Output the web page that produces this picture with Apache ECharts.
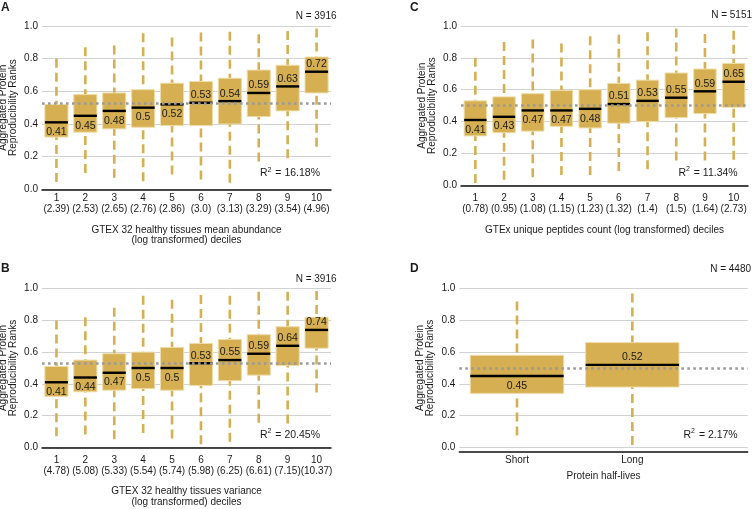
<!DOCTYPE html>
<html><head><meta charset="utf-8">
<script src="https://cdn.jsdelivr.net/npm/echarts@6/dist/echarts.min.js"></script>
<style>html,body{margin:0;padding:0;background:#fff}#c{width:753px;height:509px}</style>
</head><body><div id="c"></div>
<script>
// ---------- data ----------
const decileCats = ['1','2','3','4','5','6','7','8','9','10'];
const abundanceTicks = ['2.39','2.53','2.65','2.76','2.86','3.0','3.13','3.29','3.54','4.96'];
const varianceTicks = ['4.78','5.08','5.33','5.54','5.74','5.98','6.25','6.61','7.15','10.37'];
const peptideTicks = ['0.78','0.95','1.08','1.15','1.23','1.32','1.4','1.5','1.64','2.73'];
const halfLifeCats = ['Short','Long'];
const yTicks = [0, 0.2, 0.4, 0.6, 0.8, 1.0];

// Panel A: mean abundance deciles
const aLow  = [0.045,0.10,0.07,0.05,0.09,0.06,0.04,0.17,0.19,0.26];
const aQ1   = [0.32,0.35,0.37,0.38,0.39,0.39,0.40,0.445,0.48,0.59];
const aMed  = [0.41,0.45,0.48,0.5,0.52,0.53,0.54,0.59,0.63,0.72];
const aQ3   = [0.52,0.58,0.59,0.61,0.65,0.66,0.68,0.73,0.76,0.81];
const aHigh = [0.80,0.87,0.88,0.955,0.93,0.96,0.965,0.95,0.97,0.985];
const aRef = 0.53, aN = 'N = 3916', aR2 = '16.18%';

// Panel B: variance deciles
const bLow  = [0.07,0.08,0.05,0.09,0.055,0.02,0.035,0.155,0.15,0.345];
const bQ1   = [0.32,0.35,0.36,0.37,0.36,0.39,0.42,0.455,0.515,0.625];
const bMed  = [0.41,0.44,0.47,0.5,0.5,0.53,0.55,0.59,0.64,0.74];
const bQ3   = [0.51,0.55,0.59,0.60,0.63,0.655,0.68,0.71,0.76,0.82];
const bHigh = [0.80,0.82,0.88,0.955,0.93,0.96,0.955,0.98,0.98,0.985];
const bRef = 0.53, bN = 'N = 3916', bR2 = '20.45%';

// Panel C: unique peptides count deciles
const cLow  = [0.015,0.035,0.05,0.065,0.065,0.09,0.10,0.155,0.155,0.16];
const cQ1   = [0.31,0.33,0.34,0.37,0.36,0.39,0.40,0.425,0.45,0.49];
const cMed  = [0.41,0.43,0.47,0.47,0.48,0.51,0.53,0.55,0.59,0.65];
const cQ3   = [0.53,0.555,0.575,0.595,0.60,0.64,0.66,0.705,0.73,0.765];
const cHigh = [0.80,0.90,0.915,0.89,0.935,0.945,0.96,0.985,0.95,0.97];
const cRef = 0.50, cN = 'N = 5151', cR2 = '11.34%';

// Panel D: protein half-lives
const dLow  = [0.075,0.015];
const dQ1   = [0.34,0.38];
const dMed  = [0.45,0.52];
const dQ3   = [0.58,0.66];
const dHigh = [0.92,0.97];
const dRef = 0.50, dN = 'N = 4480', dR2 = '2.17%';

// ---------- styling ----------
const FONT = "'Liberation Sans', Arial, Helvetica, sans-serif";
const GOLD = '#D5AF52';
const GOLD_EDGE = '#EEDDA8';
const TXT = '#1a1a1a';

function rows(lo, q1, med, q3, hi, xs) {
  return med.map((m, i) => [xs ? xs[i] : i, lo[i], q1[i], m, q3[i], hi[i]]);
}

function makeRender(frac, ref) {
  return function (params, api) {
    const x = api.value(0);
    const lo = api.value(1), q1 = api.value(2), med = api.value(3), q3 = api.value(4), hi = api.value(5);
    const band = api.size([1, 0])[0];
    const w = band * frac;
    const pLo = api.coord([x, lo]), pQ1 = api.coord([x, q1]), pMed = api.coord([x, med]);
    const pQ3 = api.coord([x, q3]), pHi = api.coord([x, hi]);
    const cx = pMed[0];
    const above = med >= ref;
    const wStyle = { stroke: GOLD, lineWidth: 2.6, lineDash: [9, 5], fill: null };
    return {
      type: 'group',
      children: [
        { type: 'line', shape: { x1: cx, y1: pHi[1], x2: cx, y2: pQ3[1] }, style: wStyle },
        { type: 'line', shape: { x1: cx, y1: pLo[1], x2: cx, y2: pQ1[1] }, style: wStyle },
        { type: 'rect', shape: { x: cx - w / 2, y: pQ3[1], width: w, height: pQ1[1] - pQ3[1] },
          style: { fill: GOLD, stroke: GOLD_EDGE, lineWidth: 1 } },
        { type: 'line', shape: { x1: cx - w / 2, y1: pMed[1], x2: cx + w / 2, y2: pMed[1] },
          style: { stroke: '#000', lineWidth: 2.4 }, z2: 10 },
        { type: 'text', z2: 11, style: { text: String(med), x: cx, y: above ? pMed[1] - 7.5 : pMed[1] + 9.8,
          align: 'center', verticalAlign: 'middle', fontSize: 10.5, fontFamily: FONT, fill: TXT } }
      ]
    };
  };
}

function markRef(ref) {
  return {
    silent: true, symbol: 'none', z: 5, animation: false,
    label: { show: false },
    lineStyle: { color: '#9a9a9a', width: 2.6, type: [2.6, 3.4] },
    data: [{ yAxis: ref }]
  };
}

function yAxisCfg(gi) {
  return {
    type: 'value', gridIndex: gi, min: 0, max: 1, interval: 0.2,
    axisLine: { show: false }, axisTick: { show: false },
    axisLabel: { margin: 4, fontSize: 10, color: TXT, fontFamily: FONT,
      formatter: v => yTicks.includes(Math.round(v * 10) / 10) ? v.toFixed(1) : '' },
    splitLine: { lineStyle: { color: '#d2d2d2', width: 1 } },
    name: 'Aggregated Protein\nReproducibility Ranks', nameLocation: 'middle', nameRotate: 90, nameGap: 24,
    nameTextStyle: { fontSize: 10, lineHeight: 10, color: TXT, fontFamily: FONT }
  };
}

function xCatAxis(gi, ticks, offset, margin, name, nameGap) {
  return {
    type: 'category', gridIndex: gi, data: decileCats, offset: offset,
    axisLine: { show: true, lineStyle: { color: '#111', width: 1.5 } },
    axisTick: { show: false },
    axisLabel: { interval: 0, margin: margin, fontSize: 10, lineHeight: 11.5, color: TXT, fontFamily: FONT,
      formatter: (v, i) => v + '\n(' + ticks[i] + ')' },
    splitLine: { show: false },
    name: name, nameLocation: 'middle', nameGap: nameGap,
    nameTextStyle: { fontSize: 10, lineHeight: 10.7, color: TXT, fontFamily: FONT }
  };
}

function rText(right, cy, val) {
  return {
    type: 'text', silent: true,
    style: {
      text: '{r|R}{s|2}{r| = ' + val + '}',
      x: right, y: cy, align: 'right', verticalAlign: 'middle',
      rich: {
        r: { fontSize: 10.5, lineHeight: 14, fontFamily: FONT, fill: TXT },
        s: { fontSize: 7, lineHeight: 8, verticalAlign: 'top', fontFamily: FONT, fill: TXT, padding: [0, 1, 0, 0] }
      }
    }
  };
}
function plainText(txt, x, y, align, bold, size) {
  return { type: 'text', silent: true,
    style: { text: txt, x: x, y: y, align: align, verticalAlign: 'middle',
      fontSize: size || 10, fontWeight: bold ? 'bold' : 'normal', fontFamily: FONT, fill: TXT } };
}

const chart = echarts.init(document.getElementById('c'), null, { renderer: 'canvas' });
chart.setOption({
  animation: false,
  backgroundColor: '#fff',
  textStyle: { fontFamily: FONT },
  grid: [
    { left: 42, top: 26, width: 289, height: 163.3, outerBoundsMode: 'none' },
    { left: 42, top: 288.7, width: 289, height: 158.6, outerBoundsMode: 'none' },
    { left: 461, top: 26, width: 287, height: 159.3, outerBoundsMode: 'none' },
    { left: 459.3, top: 288.7, width: 288.4, height: 158.6, outerBoundsMode: 'none' }
  ],
  xAxis: [
    xCatAxis(0, abundanceTicks, 1.5, 1.6, 'GTEX 32 healthy tissues mean abundance\n(log transformed) deciles', 33.8),
    xCatAxis(1, varianceTicks, 4.7, 2.3, 'GTEX 32 healthy tissues variance\n(log transformed) deciles', 34.2),
    xCatAxis(2, peptideTicks, 5.4, 1.6, 'GTEx unique peptides count (log transformed) deciles', 34),
    {
      type: 'value', gridIndex: 3, min: 0.5, max: 3, interval: 0.5, offset: 4.7,
      axisLine: { show: true, onZero: false, lineStyle: { color: '#111', width: 1.5 } },
      axisTick: { show: false }, splitLine: { show: false },
      axisLabel: { margin: 3, fontSize: 10, color: TXT, fontFamily: FONT, showMinLabel: true, showMaxLabel: true,
        formatter: v => (Math.abs(v - Math.round(v)) < 1e-9 && halfLifeCats[Math.round(v) - 1]) || '' },
      name: 'Protein half-lives', nameLocation: 'middle', nameGap: 19.2,
      nameTextStyle: { fontSize: 10, color: TXT, fontFamily: FONT }
    }
  ],
  yAxis: [yAxisCfg(0), yAxisCfg(1), yAxisCfg(2), yAxisCfg(3)],
  series: [
    { type: 'custom', xAxisIndex: 0, yAxisIndex: 0, renderItem: makeRender(0.8, aRef),
      encode: { x: 0, y: [1, 2, 3, 4, 5] }, data: rows(aLow, aQ1, aMed, aQ3, aHigh), markLine: markRef(aRef) },
    { type: 'custom', xAxisIndex: 1, yAxisIndex: 1, renderItem: makeRender(0.8, bRef),
      encode: { x: 0, y: [1, 2, 3, 4, 5] }, data: rows(bLow, bQ1, bMed, bQ3, bHigh), markLine: markRef(bRef) },
    { type: 'custom', xAxisIndex: 2, yAxisIndex: 2, renderItem: makeRender(0.78, cRef),
      encode: { x: 0, y: [1, 2, 3, 4, 5] }, data: rows(cLow, cQ1, cMed, cQ3, cHigh), markLine: markRef(cRef) },
    { type: 'custom', xAxisIndex: 3, yAxisIndex: 3, renderItem: makeRender(0.81, dRef),
      encode: { x: 0, y: [1, 2, 3, 4, 5] }, data: rows(dLow, dQ1, dMed, dQ3, dHigh, [1, 2]), markLine: markRef(dRef) }
  ],
  graphic: [
    plainText('A', 1, 7.5, 'left', true, 12),
    plainText('B', 1, 269, 'left', true, 12),
    plainText('C', 410, 7.5, 'left', true, 12),
    plainText('D', 410, 269, 'left', true, 12),
    plainText(aN, 336.5, 16.7, 'right'),
    plainText(bN, 336.5, 279, 'right'),
    plainText(cN, 752, 15.5, 'right'),
    plainText(dN, 751, 269, 'right'),
    rText(320, 173.3, aR2),
    rText(320, 435, bR2),
    rText(737.7, 173, cR2),
    rText(737.7, 435, dR2)
  ]
});
</script>
</body></html>
